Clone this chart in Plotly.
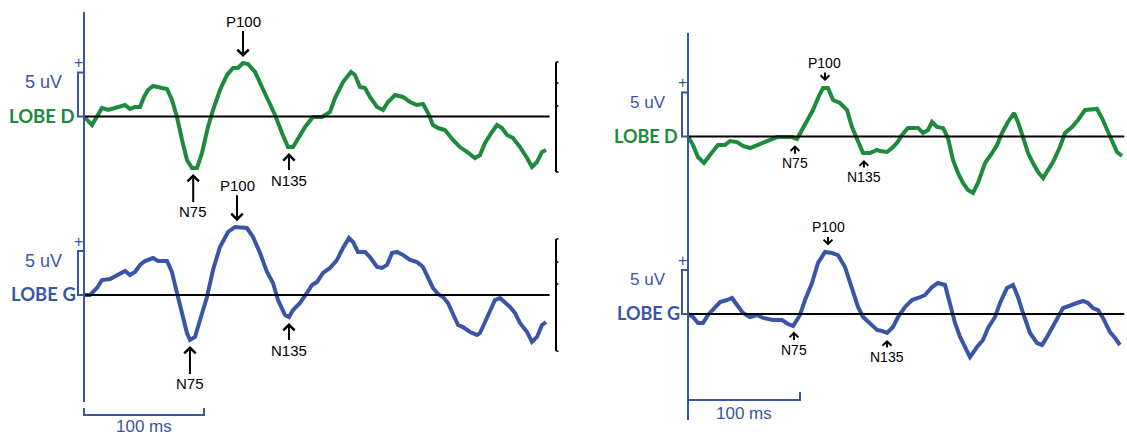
import numpy as np
import plotly.graph_objects as go

# ---- averaged responses: latency (ms) and amplitude (uV) ----
left_d_ms = [0, 6.7, 15, 20, 25.8, 34.2, 38.3, 42.5, 46.7, 50, 53.3, 57.5, 65, 69.2, 73.3, 77.5,
             81.7, 85.8, 90, 94.2, 98.3, 103.3, 107.5, 113.3, 119.2, 124.2, 128.3, 132.5, 136.7,
             142.5, 148.3, 153.3, 159.2, 165, 170, 174.2, 178.3, 184.2, 190.8, 198.3, 205, 209.2,
             215.8, 222.5, 225.8, 230, 234.2, 238.3, 244.2, 249.2, 253.3, 259.2, 265.8, 271.7,
             277.5, 282.5, 286.7, 290.8, 295, 300.8, 307.5, 313.3, 319.2, 325.8, 330, 334.2, 340,
             344.2, 348.3, 352.5, 357.5, 363.3, 369.2, 373.3, 377.5, 381.7, 385]
left_d_uv = [0, -0.97, 0.97, 0.74, 0.97, 1.31, 0.85, 1.08, 1.08, 2.22, 3.01, 3.47, 3.24, 3.13, 1.88,
             -0.06, -2.67, -4.94, -5.85, -5.85, -4.15, -1.19, 0.74, 3.01, 4.72, 5.51, 5.51, 6.08,
             5.97, 5.06, 3.35, 1.88, 0.17, -1.88, -3.47, -3.47, -2.44, -1.19, -0.06, -0.06, 0.51,
             2.10, 3.92, 5.06, 4.72, 3.35, 3.24, 2.22, 1.08, 0.74, 1.65, 2.44, 2.22, 1.65, 1.31,
             1.42, 0.40, -0.97, -1.31, -1.53, -2.67, -3.47, -4.03, -4.72, -4.38, -3.01, -1.76,
             -0.97, -1.31, -2.10, -2.44, -3.47, -4.72, -5.74, -5.17, -4.03, -3.81]

left_g_ms = [0, 5, 10.8, 15, 21.7, 27.5, 34.2, 38.3, 42.5, 46.7, 50.8, 57.5, 61.7, 69.2, 73.3, 77.5,
             81.7, 85.8, 88.3, 92.5, 96.7, 102.5, 107.5, 113.3, 120, 125.8, 135.8, 140.8, 146.7,
             152.5, 157.5, 161.7, 167.5, 170.8, 174.2, 180, 185.8, 190, 194.2, 199.2, 205, 210.8,
             215.8, 220.8, 224.2, 228.3, 234.2, 238.3, 244.2, 248.3, 252.5, 256.7, 260.8, 265.8,
             271.7, 277.5, 282.5, 286.7, 290.8, 295, 299.2, 303.3, 307.5, 311.7, 315.8, 321.7,
             327.5, 330, 334.2, 338.3, 342.5, 346.7, 350.8, 355, 359.2, 363.3, 369.2, 373.3,
             377.5, 381.7, 385]
left_g_uv = [0, 0, 0.80, 1.70, 1.82, 2.27, 2.73, 2.27, 2.61, 3.41, 3.86, 4.20, 3.86, 3.86, 2.61,
             0.23, -2.05, -4.32, -5.11, -4.77, -2.84, -0.23, 2.84, 5.45, 7.16, 7.73, 7.61, 6.59,
             4.77, 2.61, 1.36, -0.57, -2.27, -2.50, -1.70, -0.91, 0.23, 1.14, 1.48, 2.50, 3.07,
             3.98, 5.34, 6.48, 6.02, 4.89, 4.89, 4.32, 3.18, 3.07, 3.41, 4.77, 4.89, 4.55, 3.98,
             3.75, 3.18, 2.05, 0.80, 0.11, -0.23, -0.91, -2.05, -3.41, -3.64, -4.20, -4.55, -4.32,
             -3.07, -1.70, -0.57, -0.34, -0.80, -1.36, -2.05, -3.18, -4.20, -5.34, -4.77, -3.41,
             -3.07]

right_d_ms = [0, 4.5, 8.9, 14.3, 19.6, 26.8, 33, 37.5, 43.8, 49.1, 55.4, 61.6, 67, 73.2, 79.5, 86.6,
              92.9, 97.3, 101.8, 106.3, 111.6, 116.1, 120.5, 125, 129.5, 135.7, 142, 146.4, 150.9,
              156.3, 162.5, 168.8, 171.4, 177.7, 182.1, 186.6, 191.1, 196.4, 205.4, 209.8, 214.3,
              217.9, 222.3, 227.7, 232.1, 236.6, 241.1, 245.5, 250, 254.5, 258.9, 265.2, 271.4,
              275.9, 280.4, 285.7, 291.1, 294.6, 299.1, 303.6, 308, 312.5, 317, 321.4, 325.9,
              332.1, 336.6, 342.9, 348.2, 354.5, 360.7, 365.2, 369.6, 374.1, 378.6, 383, 387.5]
right_d_uv = [0, -0.97, -2.33, -3.01, -2.10, -0.97, -0.97, -0.51, -0.63, -1.08, -1.31, -0.97, -0.74,
              -0.40, -0.06, -0.06, -0.06, -0.28, 0.74, 1.65, 3.01, 4.38, 5.51, 5.51, 4.15, 3.81,
              3.01, 1.08, -0.40, -1.88, -1.88, -1.53, -1.65, -1.76, -1.31, -0.74, 0.17, 0.97, 0.97,
              0.40, 0.74, 1.65, 1.08, 0.97, -0.17, -2.67, -4.15, -5.28, -6.08, -6.42, -5.28, -3.01,
              -1.88, -0.97, 0.40, 1.65, 2.67, 1.65, -0.06, -1.88, -3.01, -4.03, -4.72, -3.81,
              -2.90, -1.19, 0.40, 1.08, 1.88, 3.01, 3.13, 3.13, 2.10, 0.74, -0.63, -1.76, -2.22]

right_g_ms = [0, 4.5, 8.9, 13.4, 17.9, 24.1, 28.6, 34.8, 39.3, 43.8, 49.1, 55.4, 61.6, 67, 75.9, 83.9,
              89.3, 93.8, 100, 104.5, 110.7, 116.1, 122.3, 128.6, 133.9, 140.2, 146.4, 151.8, 156.3,
              162.5, 168.8, 173.2, 177.7, 183, 187.5, 193.8, 200, 205.4, 211.6, 217.9, 223.2, 229.5,
              233.9, 238.4, 242.9, 247.3, 251.8, 258, 263.4, 267.9, 274.1, 278.6, 284.8, 290.2,
              294.6, 299.1, 305.4, 311.6, 316.1, 320.5, 325.9, 330.4, 334.8, 341.1, 347.3, 352.7,
              357.1, 361.6, 366.1, 370.5, 376.8, 381.3, 385.7]
right_g_uv = [0, -0.34, -1.02, -1.02, -0.11, 0.80, 1.36, 1.59, 1.82, 1.02, 0.11, -0.34, -0.11, -0.45,
              -0.68, -0.68, -1.14, -1.36, -0.11, 1.59, 3.52, 5.80, 7.05, 6.93, 6.70, 5.34, 3.07, 0.80,
              -0.34, -1.02, -1.82, -1.93, -2.16, -1.48, -0.34, 0.80, 1.59, 1.82, 2.16, 3.07, 3.52,
              3.30, 1.25, -1.02, -2.61, -3.75, -4.89, -3.75, -2.95, -1.59, -0.34, 1.25, 2.95, 3.30,
              1.93, 0.11, -2.16, -3.30, -3.52, -2.61, -1.48, -0.34, 0.68, 0.91, 1.25, 1.48, 1.25,
              0.68, 0.45, -0.45, -2.05, -2.73, -3.52]

# component latencies (ms) marked on each trace
left_d_peaks = {"N75": 91, "P100": 132.5, "N135": 170.8}
left_g_peaks = {"N75": 88.3, "P100": 127.5, "N135": 170.8}
right_d_peaks = {"N75": 95.5, "P100": 122.3, "N135": 157.1}
right_g_peaks = {"N75": 94.6, "P100": 125.0, "N135": 177.7}

GREEN = "#1d8a3d"
BLUE = "#3b55a6"
W, H = 1127, 437
SANS = "Liberation Sans, Arial, sans-serif"
BOLD = "Lato, Open Sans, sans-serif"

# pixel scale of each panel: px per ms, px per uV, time zero, baselines
PX_MS = {"x": 1.2, "x2": 1.12}
PX_UV = 8.8
T0 = {"x": 84, "x2": 688}
BASE = {"y": 116.5, "y2": 295, "y3": 136.5, "y4": 314}


def pp(py):
    """pixel row -> paper y"""
    return 1 - py / H


fig = go.Figure()

panels = [
    ("x", "y", left_d_ms, left_d_uv, GREEN, "LOBE D", left_d_peaks),
    ("x", "y2", left_g_ms, left_g_uv, BLUE, "LOBE G", left_g_peaks),
    ("x2", "y3", right_d_ms, right_d_uv, GREEN, "LOBE D", right_d_peaks),
    ("x2", "y4", right_g_ms, right_g_uv, BLUE, "LOBE G", right_g_peaks),
]

for xa, ya, ms, uv, col, name, _ in panels:
    fig.add_trace(go.Scatter(x=ms, y=uv, xaxis=xa, yaxis=ya, mode="lines",
                             line=dict(color=col, width=4), hoverinfo="skip"))

shapes = []
annots = []

for xa, ya, ms, uv, col, name, peaks in panels:
    left = xa == "x"
    end = 388 if left else 389.5
    # zero baseline
    shapes.append(dict(type="line", xref=xa, yref=ya, x0=0, x1=end, y0=0, y1=0,
                       line=dict(color="black", width=2.2)))
    # 5 uV calibration bracket
    bw = 6 / PX_MS[xa]
    shapes.append(dict(type="path", xref=xa, yref=ya,
                       path=f"M 0 5 L {-bw} 5 L {-bw} 0 L 0 0",
                       line=dict(color=BLUE, width=2)))
    annots.append(dict(xref=xa, yref=ya, x=-bw, y=5, text="+", showarrow=False,
                       font=dict(family=SANS, size=16, color=BLUE),
                       xanchor="center", yanchor="middle", yshift=10))
    annots.append(dict(xref=xa, yref=ya, x=0, y=3.9, text="5 uV", showarrow=False,
                       font=dict(family=SANS, size=18 if left else 17, color=BLUE),
                       xanchor="right", yanchor="middle", xshift=-20))
    annots.append(dict(xref=xa, yref=ya, x=0, y=0, text=f"<b>{name}</b>", showarrow=False,
                       font=dict(family=BOLD, size=18.5 if left else 18, color=col),
                       xanchor="right", yanchor="middle", xshift=-8 if name.endswith("D") else -6,
                       yshift=1))
    # component markers
    fs = 15 if left else 14
    for lab, t in peaks.items():
        a = float(np.interp(t, ms, uv))
        if left:
            off = {"N75": 44, "P100": -42, "N135": 33}[lab]
            stand = 6
            head = 1.1
        else:
            off = {"N75": 25, "P100": -25, "N135": 24}[lab]
            stand = 7
            head = 0.85
        annots.append(dict(xref=xa, yref=ya, x=t, y=a, text=lab, showarrow=True,
                           ax=0, ay=off, standoff=stand, arrowhead=4, arrowsize=head,
                           arrowwidth=2, arrowcolor="black",
                           font=dict(family=SANS, size=fs, color="black")))

# vertical time axes
for xa, top, bot in (("x", 12, 402), ("x2", 33, 420)):
    shapes.append(dict(type="line", xref=xa, yref="paper", x0=0, x1=0,
                       y0=pp(bot), y1=pp(top), line=dict(color=BLUE, width=2)))

# 100 ms calibration brackets
for xa, ya, lo, hi in (("x", "y2", 408, 415), ("x2", "y4", 392, 400)):
    b = BASE[ya]
    y_lo = (b - hi) / PX_UV
    y_hi = (b - lo) / PX_UV
    shapes.append(dict(type="path", xref=xa, yref=ya,
                       path=f"M 0 {y_hi} L 0 {y_lo} L 100 {y_lo} L 100 {y_hi}",
                       line=dict(color=BLUE, width=2)))
    annots.append(dict(xref=xa, yref=ya, x=50, y=y_lo, text="100 ms", showarrow=False,
                       font=dict(family=SANS, size=17, color=BLUE),
                       xanchor="center", yanchor="top", yshift=0 if xa == "x" else -2))

# right-hand amplitude rulers of the left panel
for ya, top, bot, ticks in (("y", 62, 172, (83, 106)), ("y2", 239, 351, (262, 284))):
    b = BASE[ya]
    xr = (556 - T0["x"]) / PX_MS["x"]
    tw = 2.5 / PX_MS["x"]
    shapes.append(dict(type="line", xref="x", yref=ya, x0=xr, x1=xr,
                       y0=(b - top) / PX_UV, y1=(b - bot) / PX_UV,
                       line=dict(color="black", width=2)))
    for ty in (top, bot) + ticks:
        shapes.append(dict(type="line", xref="x", yref=ya, x0=xr, x1=xr + tw,
                           y0=(b - ty) / PX_UV, y1=(b - ty) / PX_UV,
                           line=dict(color="black", width=1.5)))

layout_axes = {}
for xa in ("x", "x2"):
    key = "xaxis" if xa == "x" else "xaxis2"
    r0 = -T0[xa] / PX_MS[xa]
    r1 = (W - T0[xa]) / PX_MS[xa]
    ax = dict(range=[r0, r1], domain=[0, 1], visible=False, fixedrange=True)
    if xa == "x2":
        ax["overlaying"] = "x"
    layout_axes[key] = ax
for ya, anchor in (("y", "x"), ("y2", "x"), ("y3", "x2"), ("y4", "x2")):
    key = "yaxis" if ya == "y" else "yaxis" + ya[1:]
    b = BASE[ya]
    ax = dict(range=[-(H - b) / PX_UV, b / PX_UV], domain=[0, 1], visible=False,
              fixedrange=True, anchor=anchor)
    if ya != "y":
        ax["overlaying"] = "y"
    layout_axes[key] = ax

fig.update_layout(width=W, height=H, margin=dict(l=0, r=0, t=0, b=0),
                  paper_bgcolor="white", plot_bgcolor="white", showlegend=False,
                  shapes=shapes, annotations=annots, **layout_axes)

fig.write_html("out.html")
